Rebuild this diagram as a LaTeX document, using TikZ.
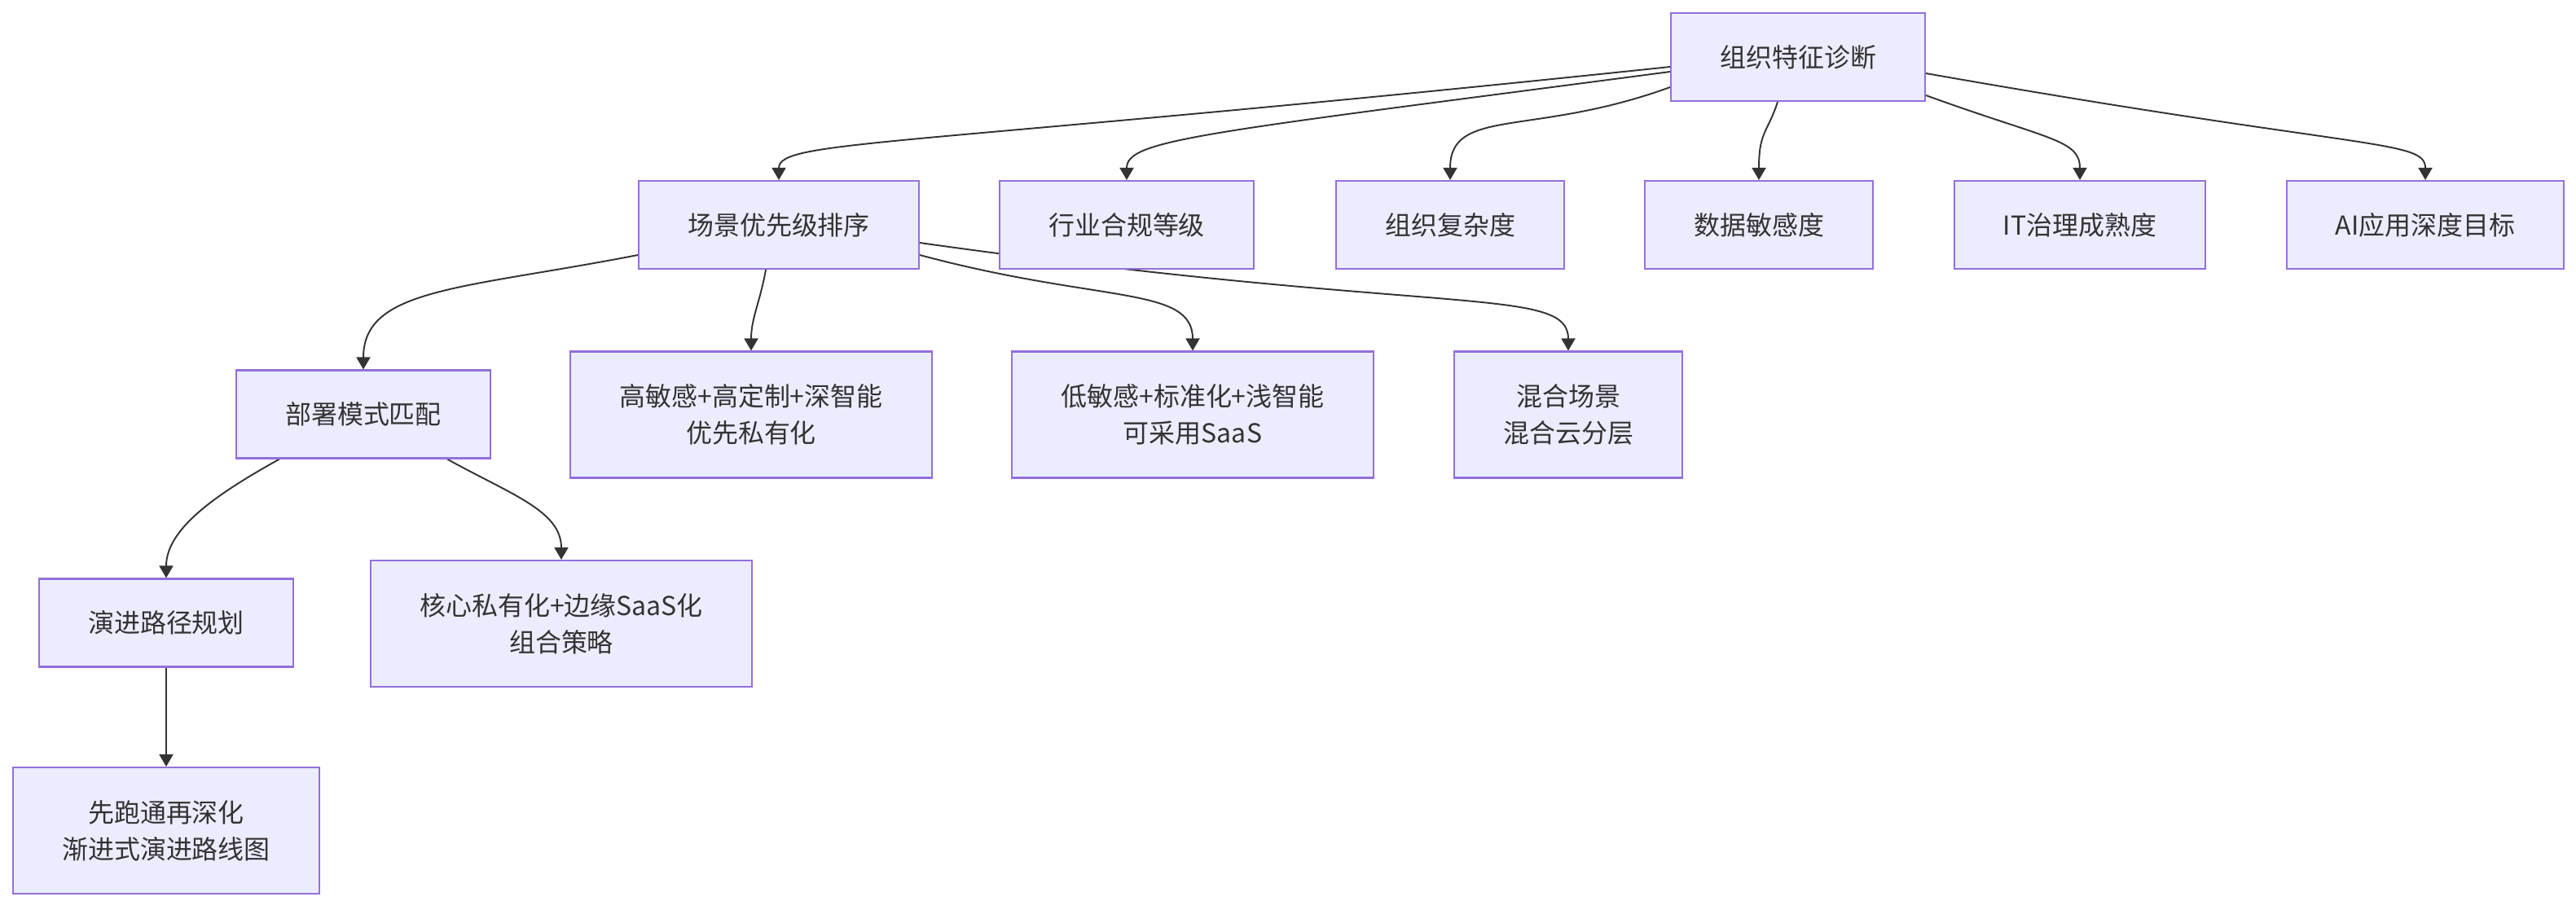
\documentclass[tikz,border=0pt]{standalone}
\usepackage{fontspec}
\setmainfont{Noto Sans CJK SC}
\usetikzlibrary{arrows.meta,backgrounds}
\definecolor{boxfill}{HTML}{ECECFF}
\definecolor{boxline}{HTML}{9370DB}
\definecolor{ink}{HTML}{333333}

\begin{document}
\begin{tikzpicture}[
  box/.style={draw=boxline, fill=boxfill, line width=0.6pt, text=ink,
    font=\fontsize{9.1}{12.8}\selectfont, align=center,
    inner xsep=0.6cm, inner ysep=0pt, minimum height=1.08cm},
  tallbox/.style={box, minimum height=1.55cm},
  link/.style={draw=ink, line width=0.55pt, -{Triangle[length=1.5mm,width=1.7mm]}}
]
\useasboundingbox (0,0) rectangle (31.62,-11.16);

% top and dimensions
\node (diagnosis) [box] at (22.07,-0.70) {组织特征诊断};
\node (priority) [box] at (9.56,-2.76) {场景优先级排序};
\node (compliance) [box] at (13.83,-2.76) {行业合规等级};
\node (complexity) [box] at (17.80,-2.76) {组织复杂度};
\node (sensitivity) [box] at (21.59,-2.76) {数据敏感度};
\node (governance) [box] at (25.53,-2.76) {IT治理成熟度};
\node (aidepth) [box] at (29.77,-2.76) {AI应用深度目标};

% scenarios
\node (deploy) [box] at (4.46,-5.085) {部署模式匹配};
\node (highsens) [tallbox] at (9.22,-5.09) {高敏感+高定制+深智能\\优先私有化};
\node (lowsens) [tallbox] at (14.64,-5.09) {低敏感+标准化+浅智能\\可采用SaaS};
\node (hybrid) [tallbox] at (19.25,-5.09) {混合场景\\混合云分层};

% strategy
\node (roadmap) [box] at (2.04,-7.645) {演进路径规划};
\node (combo) [tallbox] at (6.89,-7.655) {核心私有化+边缘SaaS化\\组合策略};
\node (iterate) [tallbox] at (2.04,-10.195) {先跑通再深化\\渐进式演进路线图};

\begin{pgfonlayer}{background}
\draw[link] ([yshift=-0.12cm]diagnosis.west) to[out=186, in=90, out distance=9.5cm, in distance=0.5cm] (priority.north);
\draw[link] ([yshift=-0.18cm]diagnosis.west) to[out=187.5, in=90, out distance=5.8cm, in distance=0.5cm] (compliance.north);
\draw[link] ([yshift=-0.37cm]diagnosis.west) to[out=200, in=90, out distance=1.8cm, in distance=0.9cm] (complexity.north);
\draw[link] ([xshift=-0.25cm]diagnosis.south) to[out=252, in=90, out distance=0.4cm, in distance=0.6cm] (sensitivity.north);
\draw[link] ([yshift=-0.47cm]diagnosis.east) to[out=340, in=90, out distance=1.6cm, in distance=0.5cm] (governance.north);
\draw[link] ([yshift=-0.20cm]diagnosis.east) to[out=350, in=90, out distance=5.5cm, in distance=0.5cm] (aidepth.north);

\draw[link] ([yshift=-0.37cm]priority.west) to[out=191, in=90, out distance=2.2cm, in distance=1cm] (deploy.north);
\draw[link] ([xshift=-0.16cm]priority.south) to[out=260, in=90, out distance=0.4cm, in distance=0.4cm] (highsens.north);
\draw[link] ([yshift=-0.37cm]priority.east) to[out=345, in=90, out distance=2.3cm, in distance=0.8cm] (lowsens.north);
\draw[link] ([yshift=-0.22cm]priority.east) to[out=352, in=90, out distance=6.5cm, in distance=0.8cm] (hybrid.north);

\draw[link] ([xshift=-1.03cm]deploy.south) to[out=209, in=90, out distance=0.9cm, in distance=0.6cm] (roadmap.north);
\draw[link] ([xshift=1.03cm]deploy.south) to[out=331, in=90, out distance=0.9cm, in distance=0.6cm] (combo.north);
\draw[link] (roadmap) -- (iterate);
\end{pgfonlayer}

\end{tikzpicture}
\end{document}
